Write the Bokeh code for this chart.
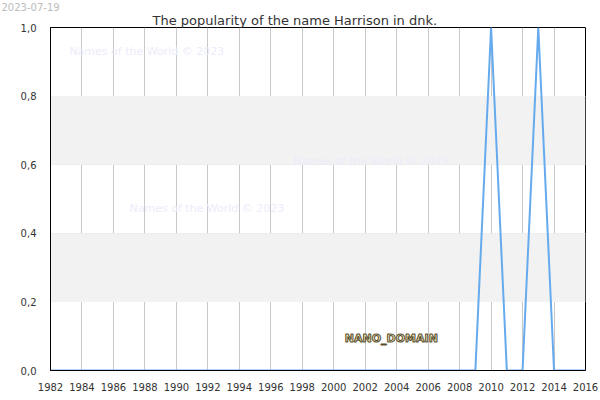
from bokeh.plotting import figure
from bokeh.models import BoxAnnotation, Label, CustomJSTickFormatter, FixedTicker, Range1d, Title
from bokeh.embed import file_html
from bokeh.resources import INLINE

years = list(range(1982, 2017))
peaks = {2010: 1.0, 2013: 1.0}
values = [peaks.get(y, 0.0) for y in years]

x_ticks = list(range(1982, 2017, 2))
y_ticks = [0.0, 0.2, 0.4, 0.6, 0.8, 1.0]
bands = [(0.2, 0.4), (0.6, 0.8)]

title_text = "The popularity of the name Harrison in dnk."
date_text = "2023-07-19"
watermark = "Names of the World © 2023"
domain_text = "NANO_DOMAIN"

p = figure(width=600, height=400, output_backend="svg", toolbar_location=None,
           x_range=Range1d(1982, 2016), y_range=Range1d(0, 1),
           min_border_left=50, min_border_right=15, min_border_top=0, min_border_bottom=30)
p.background_fill_color = "white"
p.border_fill_color = "white"
p.outline_line_color = "black"
p.outline_line_width = 1

# outermost: the date
p.title.text = date_text
p.title.align = "left"
p.title.offset = -49
p.title.standoff = 0
p.title.text_font = "DejaVu Sans"
p.title.text_font_size = "10px"
p.title.text_font_style = "normal"
p.title.text_color = "#bbbbbb"
p.title.text_line_height = 0.3

main_title = Title(text=title_text, align="left", offset=102, standoff=0,
                   text_font="DejaVu Sans", text_font_size="13px",
                   text_font_style="normal", text_color="#333333", text_line_height=0.7)
p.add_layout(main_title, "above")

for b, t in bands:
    p.add_layout(BoxAnnotation(bottom=b, top=t, fill_color="#f2f2f2", fill_alpha=1.0,
                               line_alpha=0, level="underlay"))

p.xgrid.ticker = FixedTicker(ticks=x_ticks)
p.ygrid.ticker = FixedTicker(ticks=y_ticks)
p.xgrid.grid_line_color = "#c8c8c8"
p.ygrid.grid_line_color = "#dddddd"
p.xgrid.level = "underlay"

for ax in (p.xaxis, p.yaxis):
    ax.axis_line_color = "black"
    ax.major_tick_line_color = None
    ax.minor_tick_line_color = None
    ax.major_label_text_font = "DejaVu Sans"
    ax.major_label_text_font_size = "10px"
    ax.major_label_text_color = "#333333"
p.xaxis.ticker = FixedTicker(ticks=x_ticks)
p.yaxis.ticker = FixedTicker(ticks=y_ticks)
p.xaxis.major_label_standoff = 6
p.yaxis.major_label_standoff = 8
p.yaxis.formatter = CustomJSTickFormatter(code="return tick.toFixed(1).replace('.', ',');")

for (wx, wy) in [(1983.2, 0.931), (1997.44, 0.608), (1987.02, 0.473)]:
    p.add_layout(Label(x=wx, y=wy, text=watermark, text_font="DejaVu Sans",
                       text_font_size="11px", text_color="#ececfa", text_baseline="middle"))

p.line(years, values, line_color="#66aaee", line_width=2)

p.add_layout(Label(x=2003.66, y=0.092, text=domain_text, text_font="DejaVu Sans",
                   text_font_size="11px", text_font_style="bold", text_color="#f0e6b8",
                   text_align="center", text_baseline="middle", text_outline_color="#5a5030"))

open("out.html", "w").write(file_html(p, INLINE))
